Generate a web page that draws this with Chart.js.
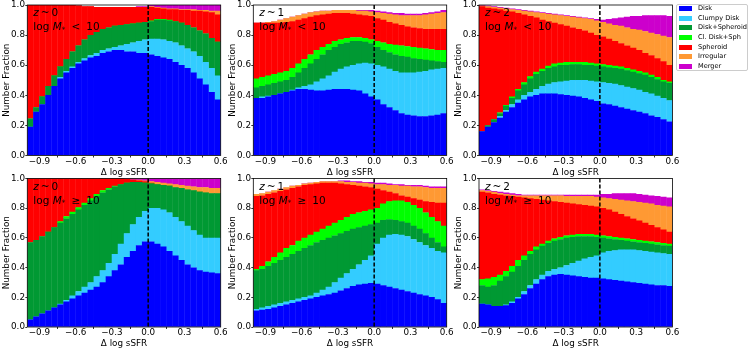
<!DOCTYPE html>
<html><head><meta charset="utf-8">
<script src="https://cdn.jsdelivr.net/npm/chart.js@4.4.1/dist/chart.umd.min.js"></script>
<style>
html,body{margin:0;padding:0;background:#fff;}
body{width:751px;height:351px;position:relative;overflow:hidden;font-family:"DejaVu Sans";}
canvas{position:absolute;}
#legend{position:absolute;left:676px;top:4px;width:72px;height:67px;border:1px solid #cccccc;border-radius:2px;background:#fff;box-sizing:border-box;}
.sw{position:absolute;width:13px;height:5px;}
.lb{position:absolute;font-size:6.6px;line-height:9px;height:9px;white-space:nowrap;color:#000;}
</style></head><body>
<div id="legend"></div>
<script>
// ---- categories (bin centres of Δ log sSFR) and ticks ----
const xCenters = [-0.975,-0.925,-0.875,-0.825,-0.775,-0.725,-0.675,-0.625,
                  -0.575,-0.525,-0.475,-0.425,-0.375,-0.325,-0.275,-0.225,
                  -0.175,-0.125,-0.075,-0.025,0.025,0.075,0.125,0.175,
                  0.225,0.275,0.325,0.375,0.425,0.475,0.525,0.575];
const xTicks = [-0.9,-0.6,-0.3,0.0,0.3,0.6];
const yTicks = [0.0,0.2,0.4,0.6,0.8,1.0];
const classNames = ['Disk','Clumpy Disk','Disk+Spheroid','Cl. Disk+Sph','Spheroid','Irregular','Merger'];
const classColors = ['#0000ff','#33ccff','#009933','#00ff00','#ff0000','#ff9933','#cc00cc'];

// ---- upper edge of each class band (cumulative number fraction) ----
// z~0, log M* < 10
const z0lo_disk   = [0.19,0.29,0.34,0.40,0.46,0.51,0.55,0.58, 0.61,0.63,0.65,0.66,0.68,0.69,0.70,0.70, 0.69,0.69,0.68,0.68,0.67,0.66,0.65,0.64, 0.62,0.60,0.58,0.55,0.51,0.47,0.42,0.37];
const z0lo_clumpy = [0.19,0.29,0.34,0.40,0.46,0.52,0.56,0.59, 0.62,0.645,0.665,0.68,0.70,0.71,0.72,0.73, 0.74,0.75,0.76,0.77,0.775,0.775,0.77,0.76, 0.75,0.73,0.71,0.69,0.66,0.62,0.58,0.53];
const z0lo_dsph   = [0.245,0.32,0.39,0.46,0.53,0.59,0.64,0.69, 0.73,0.77,0.80,0.82,0.84,0.85,0.86,0.865, 0.87,0.875,0.88,0.885,0.89,0.90,0.90,0.895, 0.89,0.88,0.865,0.85,0.83,0.81,0.78,0.755];
const z0lo_cdsph  = [0.245,0.32,0.39,0.46,0.53,0.59,0.64,0.69, 0.73,0.77,0.80,0.82,0.84,0.85,0.86,0.865, 0.87,0.875,0.88,0.885,0.895,0.905,0.905,0.90, 0.89,0.88,0.865,0.85,0.83,0.81,0.78,0.755];
const z0lo_sph    = [1,1,1,1,1,1,1,1, 0.995,0.99,0.99,0.985,0.985,0.985,0.985,0.985, 0.985,0.985,0.985,0.985,0.985,0.98,0.975,0.97, 0.97,0.965,0.965,0.96,0.96,0.955,0.95,0.935];
const z0lo_irr    = [1,1,1,1,1,1,1,1, 0.995,0.99,0.99,0.985,0.985,0.985,0.985,0.985, 0.985,0.985,0.985,0.985,0.99,0.985,0.98,0.975, 0.975,0.97,0.97,0.97,0.965,0.965,0.96,0.96];
const z0lo_mrg    = [1,1,1,1,1,1,1,1, 0.995,0.99,0.99,0.985,0.985,0.985,0.985,0.985, 0.985,0.985,0.99,0.99,1,1,1,1, 1,1,1,1,1,1,1,1];
// z~1, log M* < 10
const z1lo_disk   = [0.38,0.38,0.39,0.40,0.41,0.42,0.43,0.44, 0.44,0.435,0.43,0.43,0.435,0.44,0.44,0.44, 0.435,0.43,0.41,0.39,0.37,0.34,0.32,0.30, 0.28,0.27,0.265,0.26,0.26,0.265,0.27,0.28];
const z1lo_clumpy = [0.38,0.39,0.395,0.40,0.41,0.42,0.435,0.45, 0.46,0.47,0.49,0.51,0.53,0.555,0.575,0.59, 0.60,0.61,0.615,0.61,0.60,0.59,0.575,0.56, 0.55,0.55,0.55,0.555,0.56,0.57,0.575,0.58];
const z1lo_dsph   = [0.45,0.46,0.47,0.48,0.49,0.50,0.52,0.55, 0.58,0.61,0.64,0.67,0.70,0.72,0.74,0.75, 0.76,0.76,0.755,0.745,0.72,0.70,0.685,0.67, 0.66,0.655,0.645,0.64,0.635,0.63,0.625,0.62];
const z1lo_cdsph  = [0.51,0.52,0.53,0.54,0.55,0.56,0.58,0.61, 0.64,0.67,0.70,0.72,0.74,0.76,0.77,0.78, 0.785,0.785,0.78,0.77,0.76,0.75,0.74,0.735, 0.73,0.725,0.72,0.715,0.71,0.705,0.70,0.70];
const z1lo_sph    = [0.88,0.88,0.88,0.88,0.88,0.885,0.89,0.90, 0.91,0.92,0.93,0.935,0.94,0.945,0.945,0.945, 0.94,0.935,0.93,0.925,0.91,0.90,0.885,0.875, 0.865,0.855,0.85,0.845,0.84,0.84,0.84,0.84];
const z1lo_irr    = [0.88,0.88,0.885,0.89,0.90,0.91,0.92,0.93, 0.94,0.95,0.955,0.96,0.96,0.965,0.965,0.965, 0.965,0.96,0.96,0.955,0.95,0.945,0.94,0.935, 0.93,0.93,0.93,0.93,0.935,0.94,0.945,0.95];
const z1lo_mrg    = [0.88,0.88,0.885,0.89,0.90,0.91,0.92,0.93, 0.94,0.95,0.955,0.96,0.96,0.965,0.965,0.965, 0.965,0.965,0.965,0.965,0.96,0.955,0.95,0.945, 0.945,0.94,0.94,0.94,0.945,0.95,0.955,0.965];
// z~2, log M* < 10
const z2lo_disk   = [0.16,0.19,0.22,0.25,0.29,0.32,0.35,0.37, 0.39,0.40,0.41,0.41,0.41,0.405,0.40,0.395, 0.39,0.38,0.37,0.36,0.345,0.34,0.33,0.32, 0.31,0.30,0.29,0.28,0.265,0.255,0.24,0.225];
const z2lo_clumpy = [0.16,0.19,0.22,0.26,0.30,0.34,0.37,0.40, 0.42,0.44,0.46,0.475,0.485,0.49,0.495,0.50, 0.50,0.50,0.495,0.49,0.485,0.48,0.475,0.465, 0.455,0.445,0.435,0.42,0.41,0.395,0.38,0.365];
const z2lo_dsph   = [0.16,0.20,0.24,0.28,0.33,0.38,0.43,0.47, 0.51,0.54,0.56,0.58,0.59,0.60,0.60,0.605, 0.605,0.60,0.60,0.595,0.59,0.585,0.58,0.575, 0.565,0.555,0.545,0.535,0.52,0.505,0.49,0.48];
const z2lo_cdsph  = [0.16,0.20,0.24,0.285,0.335,0.39,0.44,0.485, 0.525,0.555,0.575,0.595,0.61,0.615,0.62,0.62, 0.62,0.62,0.615,0.61,0.605,0.60,0.595,0.59, 0.58,0.57,0.56,0.55,0.535,0.52,0.50,0.49];
const z2lo_sph    = [0.99,0.98,0.975,0.97,0.96,0.955,0.945,0.935, 0.925,0.915,0.90,0.89,0.88,0.87,0.86,0.85, 0.84,0.83,0.815,0.80,0.79,0.775,0.76,0.745, 0.73,0.715,0.70,0.68,0.665,0.645,0.625,0.60];
const z2lo_irr    = [0.995,0.99,0.985,0.98,0.975,0.97,0.965,0.96, 0.955,0.95,0.945,0.94,0.935,0.93,0.925,0.92, 0.915,0.91,0.905,0.895,0.885,0.875,0.865,0.86, 0.85,0.84,0.835,0.825,0.815,0.805,0.795,0.785];
const z2lo_mrg    = [1.0,0.995,0.99,0.985,0.98,0.975,0.97,0.965, 0.96,0.955,0.95,0.945,0.94,0.935,0.93,0.925, 0.92,0.915,0.91,0.905,0.90,0.905,0.91,0.915, 0.92,0.925,0.925,0.93,0.93,0.93,0.93,0.925];
// z~0, log M* >= 10
const z0hi_disk   = [0.05,0.07,0.09,0.11,0.13,0.15,0.17,0.19, 0.21,0.23,0.25,0.27,0.30,0.34,0.38,0.42, 0.47,0.51,0.55,0.575,0.575,0.56,0.54,0.51, 0.48,0.45,0.42,0.40,0.38,0.37,0.365,0.36];
const z0hi_clumpy = [0.05,0.07,0.09,0.11,0.13,0.155,0.18,0.21, 0.24,0.27,0.30,0.34,0.38,0.43,0.49,0.56, 0.63,0.69,0.74,0.78,0.80,0.80,0.79,0.77, 0.74,0.71,0.68,0.65,0.62,0.60,0.60,0.60];
const z0hi_dsph   = [0.57,0.585,0.61,0.64,0.67,0.70,0.73,0.76, 0.79,0.82,0.85,0.88,0.905,0.925,0.945,0.96, 0.97,0.975,0.975,0.97,0.965,0.96,0.955,0.95, 0.94,0.935,0.925,0.92,0.91,0.905,0.90,0.90];
const z0hi_cdsph  = [0.57,0.585,0.61,0.64,0.67,0.71,0.745,0.775, 0.805,0.835,0.865,0.895,0.92,0.935,0.95,0.96, 0.97,0.975,0.975,0.97,0.965,0.96,0.955,0.95, 0.94,0.935,0.925,0.92,0.91,0.905,0.90,0.90];
const z0hi_sph    = [1,1,1,1,1,1,1,1, 1,1,1,1,1,1,1,1, 0.995,0.99,0.985,0.98,0.97,0.96,0.955,0.95, 0.94,0.935,0.925,0.92,0.91,0.905,0.90,0.90];
const z0hi_irr    = [1,1,1,1,1,1,1,1, 1,1,1,1,1,1,1,1, 0.995,0.99,0.99,0.985,0.98,0.975,0.97,0.965, 0.96,0.955,0.95,0.945,0.94,0.94,0.935,0.935];
const z0hi_mrg    = [1,1,1,1,1,1,1,1, 1,1,1,1,1,1,1,1, 1,1,1,1,1,1,1,1, 1,1,1,1,1,1,1,1];
// z~1, log M* >= 10
const z1hi_disk   = [0.11,0.115,0.12,0.13,0.14,0.15,0.16,0.17, 0.18,0.19,0.20,0.21,0.22,0.23,0.245,0.26, 0.275,0.285,0.29,0.295,0.29,0.28,0.27,0.26, 0.25,0.24,0.23,0.22,0.21,0.20,0.185,0.16];
const z1hi_clumpy = [0.12,0.13,0.14,0.15,0.16,0.17,0.18,0.19, 0.20,0.21,0.23,0.25,0.27,0.30,0.33,0.36, 0.39,0.42,0.45,0.48,0.56,0.60,0.62,0.625, 0.62,0.61,0.59,0.57,0.55,0.53,0.51,0.50];
const z1hi_dsph   = [0.38,0.39,0.41,0.43,0.45,0.47,0.49,0.51, 0.53,0.55,0.57,0.585,0.60,0.615,0.63,0.645, 0.66,0.67,0.68,0.69,0.70,0.72,0.725,0.72, 0.71,0.70,0.68,0.66,0.63,0.60,0.57,0.54];
const z1hi_cdsph  = [0.39,0.41,0.44,0.47,0.50,0.53,0.55,0.58, 0.60,0.62,0.64,0.66,0.68,0.70,0.72,0.74, 0.76,0.77,0.78,0.79,0.80,0.83,0.845,0.85, 0.85,0.84,0.82,0.80,0.77,0.74,0.71,0.68];
const z1hi_sph    = [0.88,0.885,0.895,0.905,0.915,0.925,0.935,0.945, 0.955,0.96,0.965,0.97,0.97,0.97,0.965,0.96, 0.955,0.95,0.945,0.94,0.93,0.92,0.91,0.90, 0.885,0.875,0.865,0.855,0.845,0.84,0.835,0.835];
const z1hi_irr    = [0.895,0.90,0.91,0.92,0.93,0.94,0.95,0.955, 0.965,0.97,0.975,0.98,0.98,0.98,0.98,0.975, 0.975,0.97,0.97,0.965,0.96,0.96,0.955,0.955, 0.95,0.95,0.945,0.945,0.94,0.935,0.935,0.935];
const z1hi_mrg    = [0.895,0.90,0.91,0.92,0.93,0.94,0.95,0.955, 0.965,0.97,0.975,0.98,0.98,0.98,0.985,0.985, 0.98,0.98,0.975,0.975,0.97,0.97,0.965,0.96, 0.96,0.955,0.955,0.955,0.95,0.945,0.945,0.945];
// z~2, log M* >= 10
const z2hi_disk   = [0.155,0.15,0.14,0.14,0.145,0.16,0.19,0.22, 0.26,0.29,0.32,0.34,0.35,0.355,0.35,0.345, 0.34,0.335,0.33,0.33,0.325,0.32,0.315,0.31, 0.305,0.30,0.295,0.29,0.285,0.28,0.28,0.275];
const z2hi_clumpy = [0.155,0.15,0.14,0.14,0.15,0.17,0.20,0.24, 0.28,0.32,0.35,0.375,0.39,0.40,0.415,0.43, 0.445,0.46,0.47,0.48,0.50,0.51,0.515,0.52, 0.52,0.52,0.515,0.51,0.505,0.50,0.495,0.49];
const z2hi_dsph   = [0.28,0.27,0.28,0.31,0.34,0.37,0.41,0.45, 0.49,0.52,0.545,0.565,0.58,0.59,0.60,0.605, 0.61,0.61,0.61,0.605,0.60,0.595,0.59,0.585, 0.58,0.575,0.57,0.565,0.56,0.555,0.55,0.545];
const z2hi_cdsph  = [0.32,0.325,0.335,0.35,0.375,0.41,0.45,0.48, 0.51,0.54,0.56,0.58,0.595,0.605,0.615,0.62, 0.625,0.625,0.625,0.62,0.615,0.61,0.605,0.60, 0.595,0.59,0.585,0.58,0.575,0.57,0.565,0.56];
const z2hi_sph    = [0.91,0.905,0.895,0.89,0.885,0.88,0.875,0.87, 0.865,0.86,0.855,0.85,0.845,0.84,0.835,0.83, 0.825,0.82,0.815,0.81,0.80,0.79,0.775,0.76, 0.745,0.73,0.715,0.70,0.685,0.67,0.655,0.64];
const z2hi_irr    = [0.92,0.915,0.91,0.90,0.895,0.89,0.885,0.885, 0.885,0.885,0.885,0.885,0.885,0.885,0.88,0.88, 0.88,0.88,0.88,0.875,0.87,0.865,0.86,0.855, 0.85,0.845,0.84,0.835,0.83,0.82,0.815,0.81];
const z2hi_mrg    = [0.925,0.92,0.915,0.91,0.905,0.90,0.895,0.89, 0.89,0.89,0.89,0.89,0.89,0.89,0.89,0.89, 0.89,0.89,0.89,0.89,0.895,0.895,0.90,0.90, 0.90,0.90,0.895,0.89,0.885,0.88,0.875,0.87];

const panels = [
  {z:'0', rel:'<', row:0, col:0, bands:[z0lo_disk,z0lo_clumpy,z0lo_dsph,z0lo_cdsph,z0lo_sph,z0lo_irr,z0lo_mrg]},
  {z:'1', rel:'<', row:0, col:1, bands:[z1lo_disk,z1lo_clumpy,z1lo_dsph,z1lo_cdsph,z1lo_sph,z1lo_irr,z1lo_mrg]},
  {z:'2', rel:'<', row:0, col:2, bands:[z2lo_disk,z2lo_clumpy,z2lo_dsph,z2lo_cdsph,z2lo_sph,z2lo_irr,z2lo_mrg]},
  {z:'0', rel:'\u2265', row:1, col:0, bands:[z0hi_disk,z0hi_clumpy,z0hi_dsph,z0hi_cdsph,z0hi_sph,z0hi_irr,z0hi_mrg]},
  {z:'1', rel:'\u2265', row:1, col:1, bands:[z1hi_disk,z1hi_clumpy,z1hi_dsph,z1hi_cdsph,z1hi_sph,z1hi_irr,z1hi_mrg]},
  {z:'2', rel:'\u2265', row:1, col:2, bands:[z2hi_disk,z2hi_clumpy,z2hi_dsph,z2hi_cdsph,z2hi_sph,z2hi_irr,z2hi_mrg]}
];

// ---- layout ----
const FONT = '"DejaVu Sans"';
Chart.defaults.font.family = FONT;
const colLeft = [0,226,452], colAxisW = [27.3,27.3,27.0], plotW = 193.4, cvW = 240;
const rowTop = [0,173], rowH = [180,178], rowPad = [5,5.5], rowXH = [24.5,24];
const fmt = v => (v < -1e-9 ? '\u2212' : '') + Math.abs(v).toFixed(1);

function decor(p){
  return {
    id:'decor',
    afterDatasetsDraw(chart){
      const ctx = chart.ctx, a = chart.chartArea, xs = chart.scales.x;
      ctx.save();
      const x0 = xs.getPixelForValue(0);
      ctx.strokeStyle = '#000'; ctx.lineWidth = 1.5; ctx.setLineDash([4,2]);
      ctx.beginPath(); ctx.moveTo(x0, a.top); ctx.lineTo(x0, a.bottom); ctx.stroke();
      ctx.setLineDash([]); ctx.lineWidth = 0.8;
      ctx.strokeRect(a.left, a.top, a.right - a.left, a.bottom - a.top);
      // annotations
      const fs = 10.5;
      const reg = fs + 'px ' + FONT, ita = 'italic ' + fs + 'px ' + FONT, sub = (fs*0.7) + 'px ' + FONT;
      ctx.fillStyle = '#000'; ctx.textAlign = 'left'; ctx.textBaseline = 'middle';
      const draw = (parts, x, y) => {
        for (const [t, f, dx, dy] of parts) {
          x += dx; ctx.font = f; ctx.fillText(t, x, y + dy); x += ctx.measureText(t).width;
        }
      };
      const tx = a.left + 6;
      draw([['z', ita, 0, 0], ['~', reg, 2, 0], [p.z, reg, 2, 0]], tx, a.top + 8.5);
      draw([['log', reg, 0, 0], ['M', ita, 3.5, 0], ['*', sub, 0, 2.5], [p.rel, reg, 6, 0], ['10', reg, 6, 0]], tx, a.top + 22.5);
      ctx.restore();
    }
  };
}

panels.forEach(p => {
  const r = p.row, c = p.col;
  const cv = document.createElement('canvas');
  cv.width = cvW; cv.height = rowH[r];
  cv.style.left = colLeft[c] + 'px'; cv.style.top = rowTop[r] + 'px';
  cv.style.width = cvW + 'px'; cv.style.height = rowH[r] + 'px';
  document.body.appendChild(cv);
  new Chart(cv, {
    type: 'bar',
    data: {
      datasets: classNames.map((name, k) => ({
        label: name,
        data: xCenters.map((x, i) => ({x: x, y: [k === 0 ? 0 : p.bands[k-1][i], p.bands[k][i]]})),
        backgroundColor: classColors[k],
        borderWidth: 0, inflateAmount: 0.2,
        barPercentage: 1, categoryPercentage: 1, grouped: false
      }))
    },
    options: {
      responsive: false, animation: false, events: [],
      layout: {padding: {top: rowPad[r], left: 0, bottom: 0, right: cvW - colAxisW[c] - plotW}},
      plugins: {legend: {display: false}, tooltip: {enabled: false}},
      scales: {
        x: {
          type: 'linear', min: -1.0, max: 0.6, offset: false,
          afterBuildTicks: s => { s.ticks = xTicks.map(v => ({value: v})); },
          afterFit: s => { s.height = rowXH[r]; },
          ticks: {autoSkip: false, maxRotation: 0, minRotation: 0, padding: -0.4, color: '#000',
                  font: {size: 8.8, lineHeight: 1}, callback: v => fmt(v)},
          grid: {drawOnChartArea: false, drawTicks: true, tickLength: 2, color: '#000', lineWidth: 0.8},
          border: {display: false},
          title: {display: true, text: '\u0394 log sSFR', color: '#000', font: {size: 8.8, lineHeight: 1.2},
                  padding: {top: 0, bottom: 2.5}}
        },
        y: {
          min: 0, max: 1,
          afterBuildTicks: s => { s.ticks = yTicks.map(v => ({value: v})); },
          afterFit: s => { s.width = colAxisW[c]; },
          ticks: {autoSkip: false, padding: 0.3, color: '#000', font: {size: 8.8, lineHeight: 1}, callback: v => fmt(v)},
          grid: {drawOnChartArea: false, drawTicks: true, tickLength: 2, color: '#000', lineWidth: 0.8},
          border: {display: false},
          title: {display: true, text: 'Number Fraction', color: '#000', font: {size: 8.8, lineHeight: 1.2},
                  padding: {top: 1.7, bottom: 0}}
        }
      }
    },
    plugins: [decor(p)]
  });
});

// ---- legend ----
classNames.forEach((name, k) => {
  const cy = 8.3 + 9.73 * k;
  const sw = document.createElement('div');
  sw.className = 'sw'; sw.style.left = '679.3px'; sw.style.top = (cy - 2.5) + 'px';
  sw.style.background = classColors[k];
  document.body.appendChild(sw);
  const lb = document.createElement('div');
  lb.className = 'lb'; lb.style.left = '698px'; lb.style.top = (cy - 4.5) + 'px';
  lb.textContent = name;
  document.body.appendChild(lb);
});
</script>
</body></html>
